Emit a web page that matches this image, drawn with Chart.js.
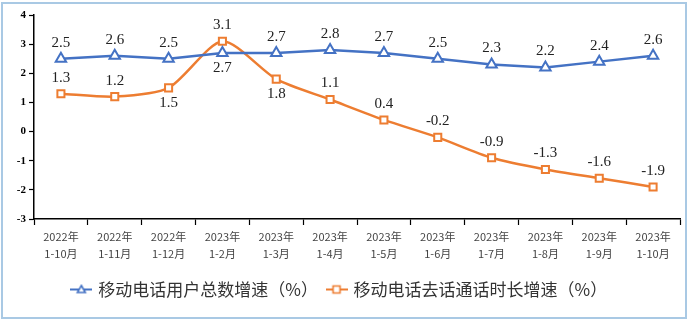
<!DOCTYPE html>
<html>
<head>
<meta charset="utf-8">
<script src="https://cdn.jsdelivr.net/npm/chart.js@4/dist/chart.umd.min.js"></script>
<style>
  html, body { margin: 0; padding: 0; background: #fff; }
  #wrap { width: 691px; height: 323px; }
</style>
</head>
<body>
<div id="wrap"><canvas id="chart" width="691" height="323"></canvas></div>
<script>
var categories = [
    ['2022年', '1-10月'], ['2022年', '1-11月'], ['2022年', '1-12月'],
    ['2023年', '1-2月'], ['2023年', '1-3月'], ['2023年', '1-4月'],
    ['2023年', '1-5月'], ['2023年', '1-6月'], ['2023年', '1-7月'],
    ['2023年', '1-8月'], ['2023年', '1-9月'], ['2023年', '1-10月']
];
var userGrowth = [2.5, 2.6, 2.5, 2.7, 2.7, 2.8, 2.7, 2.5, 2.3, 2.2, 2.4, 2.6];
var callGrowth = [1.3, 1.2, 1.5, 3.1, 1.8, 1.1, 0.4, -0.2, -0.9, -1.3, -1.6, -1.9];
// label below the point? (true = below)
var userBelow = [false, false, false, true, false, false, false, false, false, false, false, false];
var callBelow = [false, false, true, false, true, false, false, false, false, false, false, false];
var seriesNames = ['移动电话用户总数增速（%）', '移动电话去话通话时长增速（%）'];

var BLUE = '#4472C4';
var ORANGE = '#ED7D31';

function legendIcon(color, shape) {
    var c = document.createElement('canvas');
    c.width = 22; c.height = 12;
    var g = c.getContext('2d');
    g.strokeStyle = color;
    g.lineWidth = 2;
    g.beginPath(); g.moveTo(0, 6); g.lineTo(22, 6); g.stroke();
    g.fillStyle = '#fff';
    g.lineWidth = 1.6;
    g.beginPath();
    if (shape == 'triangle') {
        g.moveTo(11, 2); g.lineTo(15, 9); g.lineTo(7, 9); g.closePath();
    } else {
        g.rect(7.5, 2.5, 7, 7);
    }
    g.fill(); g.stroke();
    return c;
}

var valueLabels = {
    id: 'valueLabels',
    afterDatasetsDraw: function(chart) {
        var ctx = chart.ctx;
        var below = [userBelow, callBelow];
        ctx.save();
        ctx.font = '15px "Liberation Serif", "Times New Roman", serif';
        ctx.fillStyle = '#222';
        ctx.textAlign = 'center';
        ctx.textBaseline = 'middle';
        chart.data.datasets.forEach(function(ds, i) {
            var meta = chart.getDatasetMeta(i);
            meta.data.forEach(function(pt, j) {
                var dy = below[i][j] ? 15 : -16;
                ctx.fillText(ds.data[j].toFixed(1), pt.x, pt.y + dy);
            });
        });
        ctx.restore();
    }
};

var frame = {
    id: 'frame',
    beforeDraw: function(chart) {
        var ctx = chart.ctx;
        ctx.save();
        ctx.strokeStyle = '#a9c9e4';
        ctx.lineWidth = 2;
        ctx.strokeRect(2, 3, 684, 315);
        ctx.restore();
    }
};

var ctx = document.getElementById('chart').getContext('2d');
var chart = new Chart(ctx, {
    type: 'line',
    data: {
        labels: categories,
        datasets: [{
            label: seriesNames[0],
            data: userGrowth,
            borderColor: BLUE,
            borderWidth: 2.5,
            pointStyle: 'triangle',
            pointRadius: 6,
            pointBorderWidth: 2,
            pointBackgroundColor: '#fff',
            pointBorderColor: BLUE,
            tension: 0
        }, {
            label: seriesNames[1],
            data: callGrowth,
            borderColor: ORANGE,
            borderWidth: 2.5,
            pointStyle: 'rect',
            pointRadius: 5,
            pointBorderWidth: 2,
            pointBackgroundColor: '#fff',
            pointBorderColor: ORANGE,
            tension: 0.25
        }]
    },
    options: {
        responsive: false,
        animation: false,
        layout: { padding: { left: 0, right: 11, top: 15, bottom: 15 } },
        plugins: {
            tooltip: { enabled: false },
            legend: {
                position: 'bottom',
                labels: {
                    usePointStyle: true,
                    padding: 10,
                    color: '#333',
                    font: { family: '"Noto Sans CJK SC", sans-serif', size: 17 },
                    generateLabels: function(chart) {
                        return chart.data.datasets.map(function(ds, i) {
                            return {
                                text: ds.label,
                                datasetIndex: i,
                                fontColor: '#333',
                                pointStyle: legendIcon(ds.borderColor, i == 0 ? 'triangle' : 'rect'),
                                lineWidth: 0,
                                hidden: false
                            };
                        });
                    }
                }
            }
        },
        scales: {
            x: {
                offset: true,
                afterFit: function(scale) { scale.height = 52; },
                grid: { offset: true, drawOnChartArea: false, tickLength: 6, color: '#000', tickWidth: 1.2 },
                border: { color: '#000', width: 1.5 },
                ticks: {
                    color: '#444',
                    padding: 4,
                    maxRotation: 0,
                    font: { family: '"Noto Sans CJK SC", sans-serif', size: 11, lineHeight: 1.5 }
                }
            },
            y: {
                min: -3,
                max: 4,
                afterFit: function(scale) { scale.width = 34; },
                grid: { drawOnChartArea: false, tickLength: 5, color: '#000', tickWidth: 1.2 },
                border: { color: '#000', width: 1.5 },
                ticks: {
                    stepSize: 1,
                    color: '#000',
                    padding: 3,
                    font: { family: '"Liberation Serif", serif', size: 11, weight: 'bold' }
                }
            }
        }
    },
    plugins: [frame, valueLabels]
});
</script>
</body>
</html>
